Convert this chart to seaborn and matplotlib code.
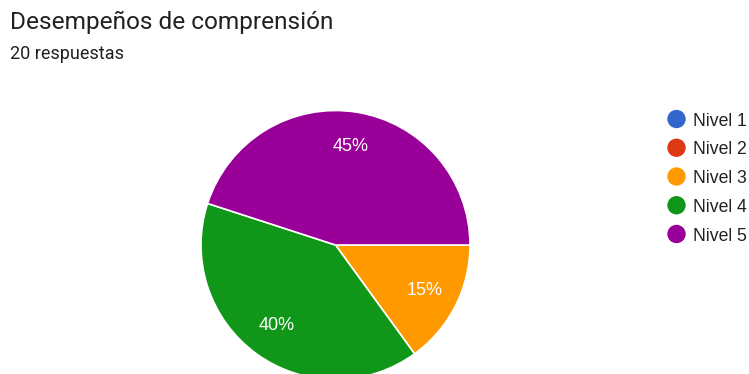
import matplotlib
matplotlib.use("Agg")
import matplotlib.pyplot as plt
import seaborn as sns

sns.set_theme(style="white")
plt.rcParams["font.family"] = ["Roboto", "DejaVu Sans"]

# Survey results
categories = ["Nivel 1", "Nivel 2", "Nivel 3", "Nivel 4", "Nivel 5"]
percentages = [0, 0, 15, 40, 45]
colors = sns.color_palette(["#3366cc", "#dc3912", "#ff9900", "#109618", "#990099"])
title = "Desempeños de comprensión"
subtitle = "20 respuestas"

W, H = 749, 374
fig = plt.figure(figsize=(W / 100, H / 100), dpi=100)
ax = fig.add_axes([0, 0, 1, 1])

cx, cy, r = 335.5, H - 245, 134.5
chart_font = ["Liberation Sans", "DejaVu Sans"]


def fmt(p):
    return f"{p:.0f}%" if p > 0.5 else ""


wedges, _, autotexts = ax.pie(
    percentages,
    colors=colors,
    startangle=0,
    counterclock=False,
    center=(cx, cy),
    radius=r,
    autopct=fmt,
    pctdistance=0.74,
    wedgeprops=dict(edgecolor="white", linewidth=1.2),
    textprops=dict(color="white", fontsize=13, family=chart_font),
)
ax.set_xlim(0, W)
ax.set_ylim(0, H)
ax.set_aspect("equal")
ax.axis("off")

# Header
fig.text(10 / W, 1 - 29 / H, title, fontsize=17.6, color="#202124", va="baseline")
fig.text(10 / W, 1 - 59 / H, subtitle, fontsize=13, color="#202124", va="baseline")

# Legend with round markers
y0, step = 119, 28.75
for i, (lab, col) in enumerate(zip(categories, colors)):
    y = H - (y0 + i * step)
    ax.scatter([676.5], [y], s=175, color=col, edgecolors="none", zorder=5)
    ax.text(693, y, lab, fontsize=12.7, color="#222222", va="center_baseline",
            ha="left", family=chart_font)

fig.savefig("out.png", dpi=100)
